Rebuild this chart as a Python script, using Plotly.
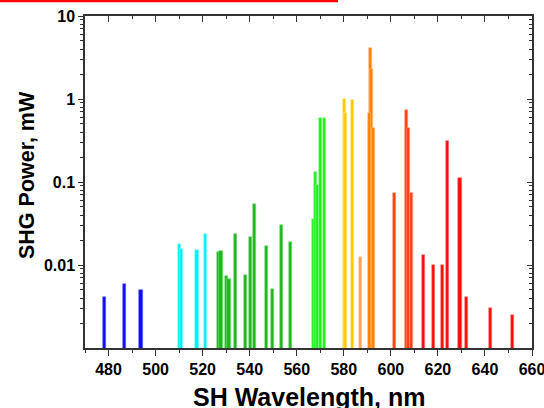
import plotly.graph_objects as go

# Data (wavelength nm, SHG power mW), grouped by bar colour
blue_x = [478.3, 486.8, 493.8]
blue_y = [0.0041, 0.0059, 0.0050]
cyan_x = [510.2, 511.0, 517.6, 521.4]
cyan_y = [0.0179, 0.0157, 0.0152, 0.0238]
green_x = [526.8, 527.8, 530.1, 531.2, 533.9, 538.1, 540.2, 541.9, 547.3, 549.7, 553.5, 557.2]
green_y = [0.0145, 0.0148, 0.0074, 0.0068, 0.0236, 0.0076, 0.0219, 0.0543, 0.0171, 0.0052, 0.0306, 0.0191]
lime_x = [567.2, 567.9, 568.9, 570.0, 571.7]
lime_y = [0.036, 0.133, 0.092, 0.585, 0.585]
yellow_x = [580.4, 580.7, 583.6]
yellow_y = [1.0, 0.67, 0.97]
lorange_x = [587.1]
lorange_y = [0.0126]
orange_x = [591.4, 591.7, 591.1, 592.6]
orange_y = [4.08, 2.28, 0.68, 0.443]
redorange_x = [601.7, 606.8, 607.5, 608.7]
redorange_y = [0.074, 0.736, 0.443, 0.073]
red_x = [613.9, 618.2, 622.0, 624.1, 629.4, 632.2, 642.3, 651.9]
red_y = [0.0133, 0.0099, 0.0099, 0.315, 0.112, 0.0041, 0.0030, 0.0025]

x_ticks = [480, 500, 520, 540, 560, 580, 600, 620, 640, 660]
y_ticks = [0.01, 0.1, 1, 10]
y_labels = ["0.01", "0.1", "1", "10"]
y_minor = [m * 10.0 ** e for e in (-3, -2, -1, 0) for m in range(2, 10)]

groups = [
    (blue_x, blue_y, "#0b0bf2", "#6a6aff"),
    (cyan_x, cyan_y, "#00f0f8", "#90ffff"),
    (green_x, green_y, "#1fb51f", "#7fdc7f"),
    (lime_x, lime_y, "#1ef01e", "#90ff90"),
    (yellow_x, yellow_y, "#ffc800", "#ffe680"),
    (lorange_x, lorange_y, "#ffa050", "#ffd0a8"),
    (orange_x, orange_y, "#ff8000", "#ffc080"),
    (redorange_x, redorange_y, "#ff4010", "#ff9a80"),
    (red_x, red_y, "#ff0a0a", "#ff8080"),
]

fig = go.Figure()
for gx, gy, col, edge in groups:
    fig.add_trace(go.Bar(
        x=gx, y=gy, width=1.3,
        marker=dict(color=col, line=dict(color=edge, width=0.6)),
        showlegend=False,
    ))
# dummy trace to activate secondary axes (top/right inward ticks)
fig.add_trace(go.Scatter(x=[None], y=[None], xaxis="x2", yaxis="y2", showlegend=False))

font = "Liberation Sans, Arial, sans-serif"
L, R, T, B = 85, 12, 16, 60
W, H = 544, 408
pw, ph = W - L - R, H - T - B
axcol = "#333"
fig.update_layout(
    width=W, height=H,
    margin=dict(l=L, r=R, t=T, b=B, autoexpand=False),
    paper_bgcolor="white", plot_bgcolor="white",
    barmode="overlay",
    bargap=0,
    font=dict(family=font, color="black"),
    xaxis=dict(
        range=[470, 660], tickvals=x_ticks, automargin=False, ticklabeloverflow="allow",
        ticks="outside", ticklen=6, tickwidth=1.2, tickcolor=axcol,
        minor=dict(dtick=10, tick0=470, ticks="outside", ticklen=3, tickcolor=axcol),
        showline=True, linecolor=axcol, linewidth=1.5,
        showgrid=False, zeroline=False,
        tickfont=dict(size=16, family=font, weight="bold"),
    ),
    xaxis2=dict(
        range=[470, 660], overlaying="x", side="top", anchor="y", tickvals=x_ticks, automargin=False,
        ticks="inside", ticklen=6, tickwidth=1.2, tickcolor=axcol, showticklabels=False,
        minor=dict(dtick=10, tick0=470, ticks="inside", ticklen=3, tickcolor=axcol),
        showline=True, linecolor=axcol, linewidth=1.5, showgrid=False, zeroline=False,
    ),
    yaxis=dict(
        type="log", range=[-3, 1], tickvals=y_ticks, ticktext=y_labels, automargin=False,
        ticks="outside", ticklen=5, tickwidth=1.2, tickcolor=axcol,
        minor=dict(tickmode="array", tickvals=y_minor, ticks="outside", ticklen=3,
                   tickcolor=axcol, showgrid=False),
        showline=True, linecolor=axcol, linewidth=1.5,
        showgrid=False, zeroline=False,
        tickfont=dict(size=16, family=font, weight="bold"),
    ),
    yaxis2=dict(
        type="log", range=[-3, 1], overlaying="y", side="right", anchor="x", automargin=False,
        tickvals=y_ticks, ticks="inside", ticklen=5, tickwidth=1.2, tickcolor=axcol,
        showticklabels=False,
        minor=dict(tickmode="array", tickvals=y_minor, ticks="inside", ticklen=3,
                   tickcolor=axcol, showgrid=False),
        showline=True, linecolor=axcol, linewidth=1.5, showgrid=False, zeroline=False,
    ),
    annotations=[
        dict(text="<b>SH Wavelength, nm</b>", xref="paper", yref="paper",
             x=(309 - L) / pw, y=-(397 - T - ph) / ph, xanchor="center", yanchor="middle",
             showarrow=False, font=dict(size=25, family=font, color="black")),
        dict(text="<b>SHG Power, mW</b>", xref="paper", yref="paper",
             x=-(L - 27) / pw, y=(H - B - 175) / ph, xanchor="center", yanchor="middle",
             textangle=-90,
             showarrow=False, font=dict(size=21.5, family=font, color="black")),
    ],
    shapes=[dict(type="line", xref="paper", yref="paper",
                 x0=-L / pw, x1=(338 - L) / pw, y0=1 + (T - 1) / ph, y1=1 + (T - 1) / ph,
                 line=dict(color="red", width=2.5))],
)

fig.write_html("out.html", config={"displayModeBar": False},
               post_script="document.body.style.margin='0';")
